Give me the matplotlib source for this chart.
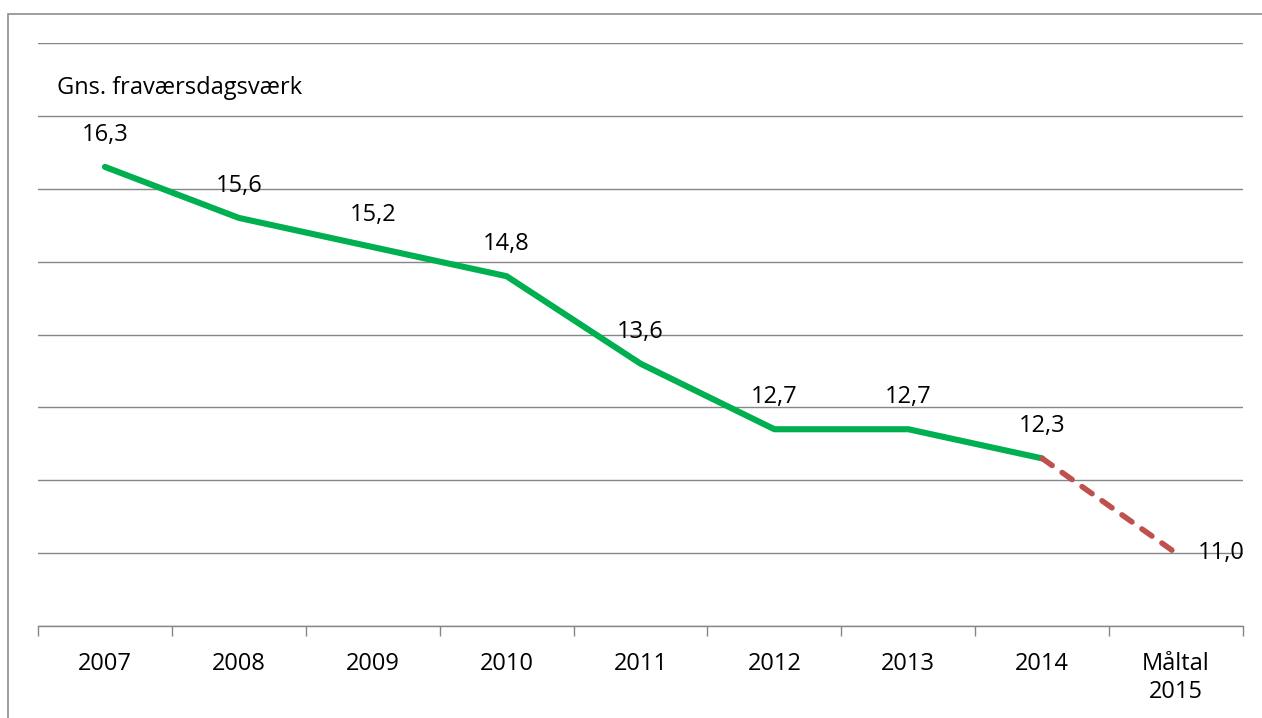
import matplotlib
matplotlib.use("Agg")
import matplotlib.pyplot as plt
from matplotlib.patches import Rectangle
from matplotlib.ticker import FixedLocator, NullFormatter

categories = ["2007", "2008", "2009", "2010", "2011", "2012", "2013", "2014", "Måltal\n2015"]
actual = [16.3, 15.6, 15.2, 14.8, 13.6, 12.7, 12.7, 12.3]
target = [12.3, 11.0]
value_labels = ["16,3", "15,6", "15,2", "14,8", "13,6", "12,7", "12,7", "12,3"]
target_label = "11,0"
ylabel = "Gns. fraværsdagsværk"

plt.rcParams['font.family'] = ['Open Sans', 'DejaVu Sans']
FS = 17
GRAY = "#868686"

W, H = 1262, 718
fig = plt.figure(figsize=(W / 100, H / 100), dpi=100)
ax = fig.add_axes([38 / W, 1 - 626 / H, (1243 - 38) / W, (626 - 43) / H])

# figure border
fig.patches.append(Rectangle((8 / W, -0.05), 1.1, 1 - 14 / H + 0.05, transform=fig.transFigure,
                             fill=False, edgecolor="#8c8c8c", linewidth=1.2))

x_act = list(range(len(actual)))
x_tgt = [len(actual) - 1, len(actual)]
ax.plot(x_act, actual, color="#00B050", linewidth=4.4, solid_capstyle="round",
        solid_joinstyle="round", zorder=3)
ax.plot(x_tgt, target, color="#C0504D", linewidth=4.0, linestyle=(0, (2.2, 2.2)),
        dash_capstyle="round", zorder=3)

for xi, v, lab in zip(x_act, actual, value_labels):
    ax.annotate(lab, (xi, v), xytext=(0, 23), textcoords="offset points",
                ha="center", va="center", fontsize=FS, color="black")
ax.annotate(target_label, (x_tgt[1], target[1]), xytext=(16, 0), textcoords="offset points",
            ha="left", va="center", fontsize=FS, color="black")

ax.set_xlim(-0.5, len(categories) - 0.5)
ax.set_ylim(10, 18)
ax.set_yticks(range(10, 19))
ax.yaxis.set_major_formatter(NullFormatter())
ax.tick_params(axis="y", length=0)
ax.grid(axis="y", color=GRAY, linewidth=1.0)
ax.set_axisbelow(True)

ax.set_xticks(range(len(categories)))
ax.set_xticklabels(categories, fontsize=FS, linespacing=1.2)
ax.tick_params(axis="x", which="major", length=0, pad=19)
ax.xaxis.set_minor_locator(FixedLocator([i - 0.5 for i in range(len(categories) + 1)]))
ax.tick_params(axis="x", which="minor", length=7, color=GRAY, width=1.0)
for lbl in ax.get_xticklabels():
    lbl.set_verticalalignment("top")

for s in ["left", "right", "top"]:
    ax.spines[s].set_visible(False)
ax.spines["bottom"].set_color(GRAY)
ax.spines["bottom"].set_linewidth(1.0)

ax.text((57 - 38) / 1205, (626 - 88) / 583, ylabel, transform=ax.transAxes,
        ha="left", va="center", fontsize=FS, color="black")

fig.savefig("out.png", dpi=100)
